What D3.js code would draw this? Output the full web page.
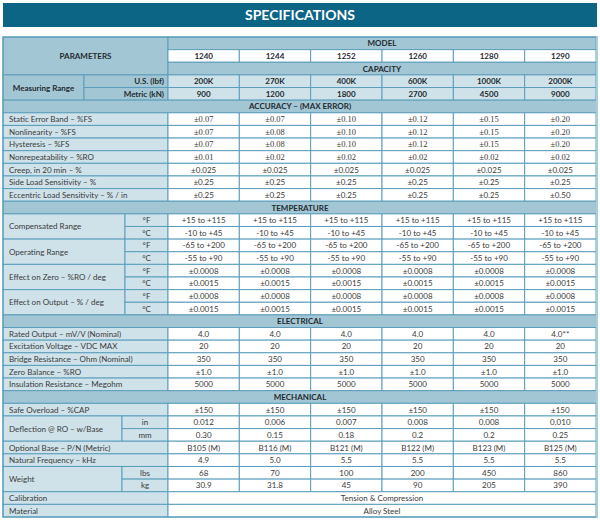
<!DOCTYPE html>
<html><head><meta charset="utf-8">
<script src="https://cdn.jsdelivr.net/npm/d3@7"></script>
<style>
html,body{margin:0;padding:0;background:#fff;}
svg{display:block;}
</style></head>
<body>
<script>
// ---------- DATA ----------
const title = "SPECIFICATIONS";
const models = ["1240","1244","1252","1260","1280","1290"];
const capacityUS = ["200K","270K","400K","600K","1000K","2000K"];
const capacityMetric = ["900","1200","1800","2700","4500","9000"];

const accuracyLabels = ["Static Error Band – %FS","Nonlinearity – %FS","Hysteresis – %FS","Nonrepeatability – %RO","Creep, in 20 min – %","Side Load Sensitivity – %","Eccentric Load Sensitivity – % / in"];
const staticErrorBand = ["±0.07","±0.07","±0.10","±0.12","±0.15","±0.20"];
const nonlinearity = ["±0.07","±0.08","±0.10","±0.12","±0.15","±0.20"];
const hysteresis = ["±0.07","±0.08","±0.10","±0.12","±0.15","±0.20"];
const nonrepeatability = ["±0.01","±0.02","±0.02","±0.02","±0.02","±0.02"];
const creep = ["±0.025","±0.025","±0.025","±0.025","±0.025","±0.025"];
const sideLoad = ["±0.25","±0.25","±0.25","±0.25","±0.25","±0.25"];
const eccentricLoad = ["±0.25","±0.25","±0.25","±0.25","±0.25","±0.50"];

const temperatureLabels = ["Compensated Range","Operating Range","Effect on Zero – %RO / deg","Effect on Output – % / deg"];
const tempUnits = ["°F","°C"];
const compensatedF = ["+15 to +115","+15 to +115","+15 to +115","+15 to +115","+15 to +115","+15 to +115"];
const compensatedC = ["-10 to +45","-10 to +45","-10 to +45","-10 to +45","-10 to +45","-10 to +45"];
const operatingF = ["-65 to +200","-65 to +200","-65 to +200","-65 to +200","-65 to +200","-65 to +200"];
const operatingC = ["-55 to +90","-55 to +90","-55 to +90","-55 to +90","-55 to +90","-55 to +90"];
const zeroEffectF = ["±0.0008","±0.0008","±0.0008","±0.0008","±0.0008","±0.0008"];
const zeroEffectC = ["±0.0015","±0.0015","±0.0015","±0.0015","±0.0015","±0.0015"];
const outputEffectF = ["±0.0008","±0.0008","±0.0008","±0.0008","±0.0008","±0.0008"];
const outputEffectC = ["±0.0015","±0.0015","±0.0015","±0.0015","±0.0015","±0.0015"];

const electricalLabels = ["Rated Output – mV/V (Nominal)","Excitation Voltage – VDC MAX","Bridge Resistance – Ohm (Nominal)","Zero Balance – %RO","Insulation Resistance – Megohm"];
const ratedOutput = ["4.0","4.0","4.0","4.0","4.0","4.0**"];
const excitation = ["20","20","20","20","20","20"];
const bridgeResistance = ["350","350","350","350","350","350"];
const zeroBalance = ["±1.0","±1.0","±1.0","±1.0","±1.0","±1.0"];
const insulation = ["5000","5000","5000","5000","5000","5000"];

const safeOverload = ["±150","±150","±150","±150","±150","±150"];
const deflectionIn = ["0.012","0.006","0.007","0.008","0.008","0.010"];
const deflectionMm = ["0.30","0.15","0.18","0.2","0.2","0.25"];
const optionalBase = ["B105 (M)","B116 (M)","B121 (M)","B122 (M)","B123 (M)","B125 (M)"];
const naturalFrequency = ["4.9","5.0","5.5","5.5","5.5","5.5"];
const weightLbs = ["68","70","100","200","450","860"];
const weightKg = ["30.9","31.8","45","90","205","390"];
const calibration = "Tension & Compression";
const material = "Alloy Steel";

// ---------- LAYOUT ----------
const W = 600, H = 522;
const C = {title:"#0d6586", dark:"#a3c6d4", light:"#cfe2ea", white:"#ffffff", line:"#5b9ebb", text:"#3a3a3a", bold:"#1f2a30"};
const FONT = "Lato, 'Open Sans', sans-serif";
const SERIF = "'Liberation Serif', 'DejaVu Serif', serif";
const nRows = 38;
const left = 3, right = 597, labelEnd = 168, tableTop = 37, tableBottom = 517;

const svg = d3.select("body").append("svg").attr("width", W).attr("height", H);
const y = d3.scaleBand().domain(d3.range(nRows)).range([tableTop, tableBottom]);
const x = d3.scaleBand().domain(models).range([labelEnd, 596]);

const cells = [];
function cell(r, span, x0, x1, text, o = {}) {
  cells.push(Object.assign({r, span, x0, x1, text, bg: C.white, weight: 400, align: "middle", font: FONT}, o));
}
function valueRow(r, vals, o = {}) {
  vals.forEach((v, i) => cell(r, 1, x(models[i]), x(models[i]) + x.bandwidth(), v, o));
}
function section(r, text) { cell(r, 1, left, right, text, {bg: C.dark, weight: 700}); }
function simpleRow(r, label, vals, o = {}) {
  cell(r, 1, left, labelEnd, label, {bg: C.light, align: "start"});
  valueRow(r, vals, o);
}
function pairRow(r, label, units, a, b, subX) {
  cell(r, 2, left, subX, label, {bg: C.light, align: "start"});
  cell(r, 1, subX, labelEnd, units[0], {bg: C.light});
  cell(r + 1, 1, subX, labelEnd, units[1], {bg: C.light});
  valueRow(r, a); valueRow(r + 1, b);
}

// header
cell(0, 3, left, labelEnd, "PARAMETERS", {bg: C.dark, weight: 700});
cell(0, 1, labelEnd, 596, "MODEL", {bg: C.dark, weight: 700});
valueRow(1, models, {weight: 700});
cell(2, 1, labelEnd, 596, "CAPACITY", {bg: C.dark, weight: 700});
cell(3, 2, left, 84, "Measuring Range", {bg: C.dark, weight: 700});
cell(3, 1, 84, labelEnd, "U.S. (lbf)", {bg: C.dark, weight: 700, align: "end"});
cell(4, 1, 84, labelEnd, "Metric (kN)", {bg: C.dark, weight: 700, align: "end"});
valueRow(3, capacityUS, {bg: C.light, weight: 700});
valueRow(4, capacityMetric, {bg: C.light, weight: 700});

section(5, "ACCURACY – (MAX ERROR)");
[staticErrorBand, nonlinearity, hysteresis, nonrepeatability, creep, sideLoad, eccentricLoad]
  .forEach((vals, i) => simpleRow(6 + i, accuracyLabels[i], vals, i < 4 ? {font: SERIF} : {}));

section(13, "TEMPERATURE");
[[compensatedF, compensatedC],[operatingF, operatingC],[zeroEffectF, zeroEffectC],[outputEffectF, outputEffectC]]
  .forEach((p, i) => pairRow(14 + i * 2, temperatureLabels[i], tempUnits, p[0], p[1], 125));

section(22, "ELECTRICAL");
[ratedOutput, excitation, bridgeResistance, zeroBalance, insulation]
  .forEach((vals, i) => simpleRow(23 + i, electricalLabels[i], vals));

section(28, "MECHANICAL");
simpleRow(29, "Safe Overload – %CAP", safeOverload);
pairRow(30, "Deflection @ RO – w/Base", ["in","mm"], deflectionIn, deflectionMm, 122);
simpleRow(32, "Optional Base – P/N (Metric)", optionalBase);
simpleRow(33, "Natural Frequency – kHz", naturalFrequency);
pairRow(34, "Weight", ["lbs","kg"], weightLbs, weightKg, 122);
cell(36, 1, left, labelEnd, "Calibration", {bg: C.light, align: "start"});
cell(36, 1, labelEnd, 596, calibration);
cell(37, 1, left, labelEnd, "Material", {bg: C.light, align: "start"});
cell(37, 1, labelEnd, 596, material);

// title bar
svg.append("rect").attr("x", 3).attr("y", 3).attr("width", 594).attr("height", 24).attr("fill", C.title);
svg.append("text").attr("x", 300).attr("y", 20).attr("text-anchor", "middle")
  .attr("fill", "#fff").attr("font-family", FONT).attr("font-weight", 700).attr("font-size", 14).text(title);

// cells
const g = svg.append("g");
g.selectAll("rect.cell").data(cells).join("rect").attr("class", "cell")
  .attr("x", d => d.x0).attr("y", d => y(d.r))
  .attr("width", d => d.x1 - d.x0).attr("height", d => y.step() * d.span)
  .attr("fill", d => d.bg).attr("stroke", C.line).attr("stroke-width", 1);

g.selectAll("text.cell").data(cells).join("text").attr("class", "cell")
  .attr("x", d => d.align === "start" ? d.x0 + 6 : d.align === "end" ? d.x1 - 4 : (d.x0 + d.x1) / 2)
  .attr("y", d => y(d.r) + y.step() * d.span / 2 + 3)
  .attr("text-anchor", d => d.align)
  .attr("font-family", d => d.font)
  .attr("font-size", d => d.font === SERIF ? 8.5 : 8)
  .attr("font-weight", d => d.weight)
  .attr("fill", d => d.weight === 700 ? C.bold : C.text)
  .text(d => d.text);

// outer border
svg.append("rect").attr("x", left).attr("y", tableTop).attr("width", right - left).attr("height", tableBottom - tableTop)
  .attr("fill", "none").attr("stroke", C.line).attr("stroke-width", 1.2);
svg.append("line").attr("x1", 597).attr("x2", 597).attr("y1", tableTop).attr("y2", tableBottom)
  .attr("stroke", "#a9cddb").attr("stroke-width", 2);
</script>
</body></html>
